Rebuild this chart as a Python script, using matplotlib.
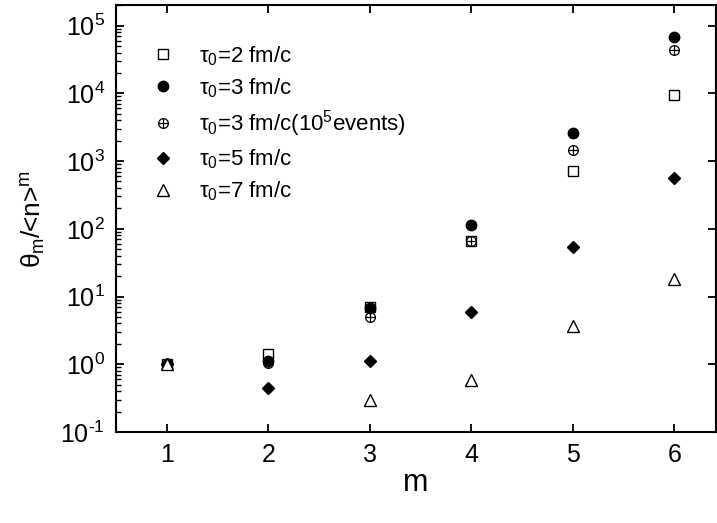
import numpy as np
import matplotlib
matplotlib.use("Agg")
import matplotlib.pyplot as plt
from matplotlib.path import Path
from matplotlib.markers import MarkerStyle
from matplotlib.ticker import LogLocator, NullFormatter, FuncFormatter

plt.rcParams['font.family'] = ['Liberation Sans', 'DejaVu Sans']
plt.rcParams['mathtext.fontset'] = 'custom'
plt.rcParams['mathtext.rm'] = 'Liberation Sans'
plt.rcParams['mathtext.it'] = 'Liberation Sans'
plt.rcParams['mathtext.bf'] = 'Liberation Sans:bold'

m = [1, 2, 3, 4, 5, 6]
tau2 = [1.0, 1.4, 7.0, 65, 720, 9500]
tau3 = [1.0, 1.1, 6.8, 115, 2600, 68000]
tau3_big = [1.0, 1.05, 5.0, 65, 1450, 43000]
tau5 = [1.0, 0.44, 1.1, 6.0, 53, 570]
tau7 = [1.0, np.nan, 0.30, 0.58, 3.7, 18]

labels = [r'$\tau_0$=2 fm/c', r'$\tau_0$=3 fm/c', r'$\tau_0$=3 fm/c(10$^5$events)',
          r'$\tau_0$=5 fm/c', r'$\tau_0$=7 fm/c']

# circle with a cross inside
oplus = Path.make_compound_path(
    Path.unit_circle(),
    Path([[-1, 0], [1, 0], [0, -1], [0, 1]],
         [Path.MOVETO, Path.LINETO, Path.MOVETO, Path.LINETO]))

fig = plt.figure(figsize=(7.17, 5.23), dpi=100)
ax = fig.add_axes([0.162, 0.174, 0.8366, 0.816])

ax.plot(m, tau2, ls='none', marker='s', ms=7, mfc='white', mec='black', mew=1, label=labels[0])
ax.plot(m, tau3, ls='none', marker='o', ms=7.5, mfc='black', mec='black', label=labels[1])
ax.plot(m, tau3_big, ls='none', marker=MarkerStyle(oplus), ms=7, mfc='none', mec='black', mew=0.9, label=labels[2])
ax.plot(m, tau5, ls='none', marker='D', ms=6.5, mfc='black', mec='black', label=labels[3])
ax.plot(m, tau7, ls='none', marker='^', ms=8, mfc='white', mec='black', mew=1, label=labels[4])

def pow_label(v, pos):
    e = int(round(np.log10(v)))
    if e < 0:
        return r'10$^{\text{-}%d}$' % (-e)
    return r'10$^{%d}$' % e

ax.set_yscale('log')
ax.set_xlim(0.5, 6.41)
ax.set_ylim(0.1, 2e5)
ax.set_xticks(m)
ax.set_yticks([1e-1, 1e0, 1e1, 1e2, 1e3, 1e4, 1e5])
ax.yaxis.set_major_formatter(FuncFormatter(pow_label))
ax.yaxis.set_minor_locator(LogLocator(base=10, subs=np.arange(2, 10), numticks=30))
ax.yaxis.set_minor_formatter(NullFormatter())

ax.tick_params(axis='both', which='major', direction='in', length=6, width=1.3,
               labelsize=18, top=True, right=True, pad=8)
ax.tick_params(axis='y', which='minor', direction='in', length=3.5, width=1, left=True, right=False)
for s in ax.spines.values():
    s.set_linewidth(1.5)

ax.set_xlabel('m', fontsize=22, labelpad=1)
ax.set_ylabel(r'$\theta_m$/<n>$^m$', fontsize=19, labelpad=9)

ax.legend(loc='upper left', bbox_to_anchor=(0.045, 0.93), frameon=False, fontsize=16,
          handletextpad=1.1, labelspacing=0.38, handlelength=1.0, borderaxespad=0)

fig.savefig('out.png', dpi=100)
